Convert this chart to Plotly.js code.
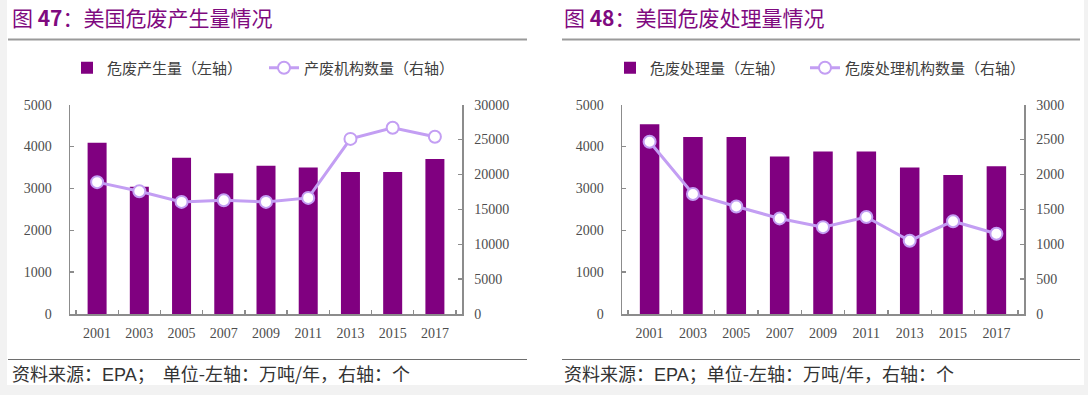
<!DOCTYPE html>
<html>
<head>
<meta charset="utf-8">
<script src="https://cdn.plot.ly/plotly-3.0.1.min.js"></script>
<style>html,body{margin:0;padding:0;background:#f2f2f2;}#chart{width:1088px;height:395px;}</style>
</head>
<body>
<div id="chart"></div>
<script>
// ---- data ----
const years = ['2001', '2003', '2005', '2007', '2009', '2011', '2013', '2015', '2017'];
const wasteGenerated = [4090, 3040, 3730, 3360, 3540, 3500, 3390, 3390, 3700];
const generatorCount = [18900, 17600, 16070, 16300, 16070, 16640, 25100, 26700, 25400];
const wasteTreated = [4530, 4230, 4230, 3760, 3880, 3880, 3500, 3320, 3530];
const treatmentFacilityCount = [2470, 1720, 1540, 1370, 1245, 1390, 1050, 1330, 1150];

const leftTicks = [0, 1000, 2000, 3000, 4000, 5000];
const rightTicksA = [0, 5000, 10000, 15000, 20000, 25000, 30000];
const rightTicksB = [0, 500, 1000, 1500, 2000, 2500, 3000];

const titleA = '图 <b>47</b>：美国危废产生量情况';
const titleB = '图 <b>48</b>：美国危废处理量情况';
const EPA = '<span style="font-family:Liberation Sans, Arial, sans-serif;font-size:18px">EPA</span>';
const noteA = '资料来源：' + EPA + '；  单位-左轴：万吨/年，右轴：个';
const noteB = '资料来源：' + EPA + '；单位-左轴：万吨/年，右轴：个';

// ---- styles ----
const W = 1088, H = 395;
const px = v => v / W;
const py = v => 1 - v / H;
const PURPLE = '#800080';
const LAV = '#c39ef3';
const AXIS = '#8c8c8c';
const TICKFONT = {family: 'Liberation Serif, Times New Roman, serif', size: 14, color: '#4d4d4d'};
const CJK = 'Noto Sans CJK SC, sans-serif';

const barCommon = {type: 'bar', marker: {color: PURPLE}, width: 0.45};
const lineCommon = {
  type: 'scatter', mode: 'lines+markers',
  line: {color: LAV, width: 3},
  marker: {size: 12, color: '#ffffff', line: {color: LAV, width: 2}}
};

const traces = [
  Object.assign({}, barCommon, {x: years, y: wasteGenerated, name: '危废产生量（左轴）', xaxis: 'x', yaxis: 'y', legend: 'legend', legendwidth: 152}),
  Object.assign({}, lineCommon, {x: years, y: generatorCount, name: '产废机构数量（右轴）', xaxis: 'x', yaxis: 'y2', legend: 'legend', legendwidth: 200}),
  Object.assign({}, barCommon, {x: years, y: wasteTreated, name: '危废处理量（左轴）', xaxis: 'x2', yaxis: 'y3', legend: 'legend2', legendwidth: 150}),
  Object.assign({}, lineCommon, {x: years, y: treatmentFacilityCount, name: '危废处理机构数量（右轴）', xaxis: 'x2', yaxis: 'y4', legend: 'legend2', legendwidth: 220})
];

const yDom = [py(314), py(104.7)];
const xDomA = [px(70), px(462)];
const xDomB = [px(622), px(1024)];

function xaxisCfg(dom, anchor) {
  return {
    domain: dom, anchor: anchor, type: 'category',
    showline: true, linecolor: AXIS, linewidth: 1.5,
    ticks: 'inside', tickson: 'boundaries', ticklen: 4, tickcolor: AXIS, tickwidth: 1.3,
    tickfont: TICKFONT, showgrid: false, zeroline: false, fixedrange: true,
    ticklabelstandoff: 6
  };
}
function yaxisCfg(range, ticks, side, anchor, overlay) {
  const c = {
    domain: yDom, range: range, tickvals: ticks, ticktext: ticks.map(String),
    side: side, anchor: anchor,
    showline: true, linecolor: AXIS, linewidth: 1.5,
    ticks: 'inside', ticklen: 4, tickcolor: AXIS, tickwidth: 1.3,
    tickfont: TICKFONT, showgrid: false, zeroline: false, fixedrange: true,
    ticklabelstandoff: side === 'left' ? 14 : 8
  };
  if (overlay) c.overlaying = overlay;
  return c;
}

const legendFont = {family: CJK, size: 15, color: '#404040'};

const layout = {
  width: W, height: H,
  margin: {l: 0, r: 0, t: 0, b: 0},
  paper_bgcolor: '#f2f2f2',
  plot_bgcolor: 'rgba(0,0,0,0)',
  showlegend: true,
  barmode: 'overlay',
  xaxis: xaxisCfg(xDomA, 'y'),
  yaxis: yaxisCfg([0, 5000], leftTicks, 'left', 'x'),
  yaxis2: yaxisCfg([0, 30000], rightTicksA, 'right', 'x', 'y'),
  xaxis2: xaxisCfg(xDomB, 'y3'),
  yaxis3: yaxisCfg([0, 5000], leftTicks, 'left', 'x2'),
  yaxis4: yaxisCfg([0, 3000], rightTicksB, 'right', 'x2', 'y3'),
  legend: {
    orientation: 'h', x: px(67), xanchor: 'left', y: py(68), yanchor: 'middle',
    font: legendFont, bgcolor: 'rgba(0,0,0,0)', itemclick: false, itemdoubleclick: false,
    traceorder: 'normal'
  },
  legend2: {
    orientation: 'h', x: px(610), xanchor: 'left', y: py(68), yanchor: 'middle',
    font: legendFont, bgcolor: 'rgba(0,0,0,0)', itemclick: false, itemdoubleclick: false,
    traceorder: 'normal'
  },
  shapes: [
    {type: 'rect', xref: 'paper', yref: 'paper', x0: px(7), x1: px(1084), y0: py(385), y1: 1,
     fillcolor: '#ffffff', line: {width: 0}, layer: 'below'},
    {type: 'line', xref: 'paper', yref: 'paper', x0: px(8), x1: px(527), y0: py(39.5), y1: py(39.5),
     line: {color: '#9a9a9a', width: 2}},
    {type: 'line', xref: 'paper', yref: 'paper', x0: px(562), x1: px(1080), y0: py(39.5), y1: py(39.5),
     line: {color: '#9a9a9a', width: 2}},
    {type: 'line', xref: 'paper', yref: 'paper', x0: px(8), x1: px(527), y0: py(359.5), y1: py(359.5),
     line: {color: '#6e6e6e', width: 1}},
    {type: 'line', xref: 'paper', yref: 'paper', x0: px(562), x1: px(1080), y0: py(359.5), y1: py(359.5),
     line: {color: '#6e6e6e', width: 1}}
  ],
  annotations: [
    {text: titleA, xref: 'paper', yref: 'paper', x: px(10), y: py(17), xanchor: 'left', yanchor: 'middle',
     showarrow: false, font: {family: CJK, size: 21, color: '#7f0a7f'}},
    {text: titleB, xref: 'paper', yref: 'paper', x: px(562), y: py(17), xanchor: 'left', yanchor: 'middle',
     showarrow: false, font: {family: CJK, size: 21, color: '#7f0a7f'}},
    {text: noteA, xref: 'paper', yref: 'paper', x: px(10), y: py(373), xanchor: 'left', yanchor: 'middle',
     showarrow: false, font: {family: CJK, size: 18, color: '#333333'}},
    {text: noteB, xref: 'paper', yref: 'paper', x: px(562), y: py(373), xanchor: 'left', yanchor: 'middle',
     showarrow: false, font: {family: CJK, size: 18, color: '#333333'}}
  ]
};

Plotly.newPlot('chart', traces, layout, {displayModeBar: false, staticPlot: true});
</script>
</body>
</html>
